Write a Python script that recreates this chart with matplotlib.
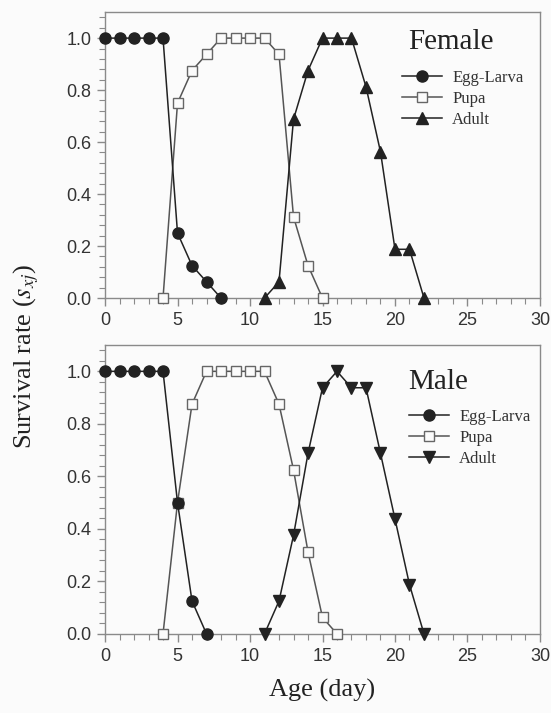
import numpy as np
import matplotlib
matplotlib.use("Agg")
import matplotlib.pyplot as plt
from matplotlib.ticker import MultipleLocator

# survival rate by age (day)
female_egg_x = [0, 1, 2, 3, 4, 5, 6, 7, 8]
female_egg_y = [1, 1, 1, 1, 1, 0.25, 0.125, 0.0625, 0]
female_pupa_x = [4, 5, 6, 7, 8, 9, 10, 11, 12, 13, 14, 15]
female_pupa_y = [0, 0.75, 0.875, 0.9375, 1, 1, 1, 1, 0.9375, 0.3125, 0.125, 0]
female_adult_x = [11, 12, 13, 14, 15, 16, 17, 18, 19, 20, 21, 22]
female_adult_y = [0, 0.0625, 0.6875, 0.875, 1, 1, 1, 0.8125, 0.5625, 0.1875, 0.1875, 0]

male_egg_x = [0, 1, 2, 3, 4, 5, 6, 7]
male_egg_y = [1, 1, 1, 1, 1, 0.5, 0.125, 0]
male_pupa_x = [4, 5, 6, 7, 8, 9, 10, 11, 12, 13, 14, 15, 16]
male_pupa_y = [0, 0.5, 0.875, 1, 1, 1, 1, 1, 0.875, 0.625, 0.3125, 0.0625, 0]
male_adult_x = [11, 12, 13, 14, 15, 16, 17, 18, 19, 20, 21, 22]
male_adult_y = [0, 0.125, 0.375, 0.6875, 0.9375, 1, 0.9375, 0.9375, 0.6875, 0.4375, 0.1875, 0]

plt.rcParams['mathtext.fontset'] = 'stix'
serif = 'Liberation Serif'
sans = 'Liberation Sans'
line_c = '#222222'
spine_c = '#8a8a8a'
bg = '#fbfbfb'

fig = plt.figure(figsize=(5.51, 7.13), dpi=100, facecolor=bg)
ax1 = fig.add_axes([0.1906, 0.582, 0.7894, 0.401])
ax2 = fig.add_axes([0.1906, 0.111, 0.7894, 0.405])

panels = [
    (ax1, 'Female', female_egg_x, female_egg_y, female_pupa_x, female_pupa_y,
     female_adult_x, female_adult_y, '^', 0.895, (0.683, 0.799)),
    (ax2, 'Male', male_egg_x, male_egg_y, male_pupa_x, male_pupa_y,
     male_adult_x, male_adult_y, 'v', 0.872, (0.699, 0.780)),
]

for ax, title, ex, ey, px, py, ax_x, ax_y, amark, ty, lpos in panels:
    ax.set_facecolor(bg)
    ax.plot(ex, ey, '-', color=line_c, lw=1.1, marker='o', ms=8,
            mfc=line_c, mec=line_c, label='Egg-Larva', zorder=4)
    ax.plot(px, py, '-', color='#555555', lw=1.1, marker='s', ms=7,
            mfc=bg, mec='#666666', mew=1.0, label='Pupa', zorder=3)
    ax.plot(ax_x, ax_y, '-', color=line_c, lw=1.1, marker=amark, ms=8,
            mfc=line_c, mec=line_c, label='Adult', zorder=3)
    ax.set_xlim(0, 30)
    ax.set_ylim(0, 1.1)
    ax.xaxis.set_major_locator(MultipleLocator(5))
    ax.xaxis.set_minor_locator(MultipleLocator(1))
    ax.yaxis.set_minor_locator(MultipleLocator(0.04))
    ax.set_yticks([0, 0.2, 0.4, 0.6, 0.8, 1.0])
    ax.set_yticklabels(['0.0', '0.2', '0.4', '0.6', '0.8', '1.0'])
    ax.tick_params(which='major', direction='out', length=6, width=1,
                   color=spine_c, labelsize=13, labelcolor='#333333', pad=4)
    ax.tick_params(which='minor', direction='out', length=4, width=0.8,
                   color=spine_c)
    for lab in ax.get_xticklabels() + ax.get_yticklabels():
        lab.set_family(sans)
    for s in ax.spines.values():
        s.set_color(spine_c)
        s.set_linewidth(1.0)
    for p in ax.lines:
        p.set_clip_on(False)
    ax.text(0.697, ty, title, transform=ax.transAxes, family=serif,
            fontsize=21, color=line_c, va='center', ha='left')
    leg = ax.legend(loc='upper left', bbox_to_anchor=lpos,
                    frameon=False, prop={'family': serif, 'size': 12},
                    handlelength=2.4, handletextpad=0.6, labelspacing=0.3,
                    borderaxespad=0, borderpad=0)
    for t in leg.get_texts():
        t.set_color('#333333')

fig.text(0.048, 0.5, 'Survival rate ($s_{xj}$)', rotation=90, family=serif,
         fontsize=19, color=line_c, ha='center', va='center')
fig.text(0.585, 0.032, 'Age (day)', family=serif, fontsize=19,
         color=line_c, ha='center', va='center')

fig.savefig('out.png', dpi=100, facecolor=bg)
